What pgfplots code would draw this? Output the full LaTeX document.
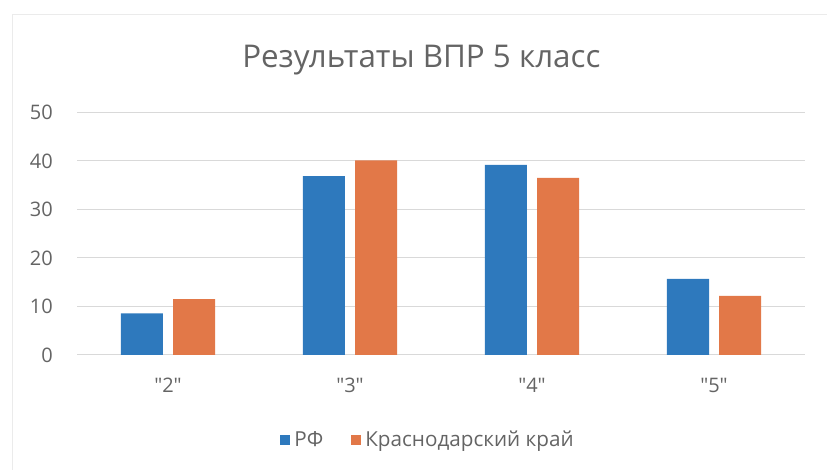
\documentclass[border=0pt]{standalone}
\usepackage{fontspec}
\setmainfont{Open Sans}[Ligatures=TeXOff]
\usepackage{pgfplots}
\pgfplotsset{compat=1.18}
\definecolor{rfblue}{RGB}{46,121,189}
\definecolor{krorange}{RGB}{226,120,72}
\definecolor{txtgray}{RGB}{100,100,100}
\definecolor{gridgray}{RGB}{217,217,217}
\begin{document}
\begin{tikzpicture}
\path[use as bounding box] (0,0) rectangle (620.25pt,352.5pt);
\draw[black!8, line width=0.6pt] (9pt,0) -- (9pt,342pt) -- (620.25pt,342pt);
\node[anchor=base, text=txtgray, font=\fontsize{23.5}{28}\selectfont, inner sep=0pt] at (316pt,301.5pt) {Результаты ВПР 5 класс};
\begin{axis}[
  at={(57.75pt,86.25pt)}, anchor=south west,
  scale only axis, width=546pt, height=181.9pt,
  ybar, bar width=0.231,
  xmin=-0.5, xmax=3.5, ymin=0, ymax=50,
  ytick={0,10,...,50},
  xtick={0,1,2,3},
  xticklabels={"2","3","4","5"},
  axis line style={draw=none},
  major tick length=0pt,
  ymajorgrids, grid style={gridgray, line width=0.75pt},
  /pgf/number format/assume math mode=true,
  tick label style={text=txtgray, font=\fontsize{15}{18}\selectfont},
  yticklabel style={anchor=east, inner sep=0pt, xshift=-18pt},
  xticklabel style={anchor=base, inner sep=0pt, yshift=-28.5pt},
  legend style={draw=none, fill=none, at={(0.4835,-0.3505)}, anchor=center,
    legend columns=-1, font=\fontsize{15.5}{18}\selectfont, text=txtgray,
    inner sep=0pt,
    nodes={inner xsep=3pt, inner ysep=0pt},
    /tikz/every even column/.append style={column sep=18pt}},
  legend image code/.code={\fill[#1] (0pt,-3.75pt) rectangle (7.5pt,3.75pt);},
]
\addplot[fill=rfblue, draw=none, bar shift=-0.143] coordinates {(0,8.6) (1,36.9) (2,39.2) (3,15.7)};
\addplot[fill=krorange, draw=none, bar shift=0.143] coordinates {(0,11.5) (1,40.1) (2,36.5) (3,12.2)};
\legend{РФ, Краснодарский край}
\end{axis}
\end{tikzpicture}
\end{document}
